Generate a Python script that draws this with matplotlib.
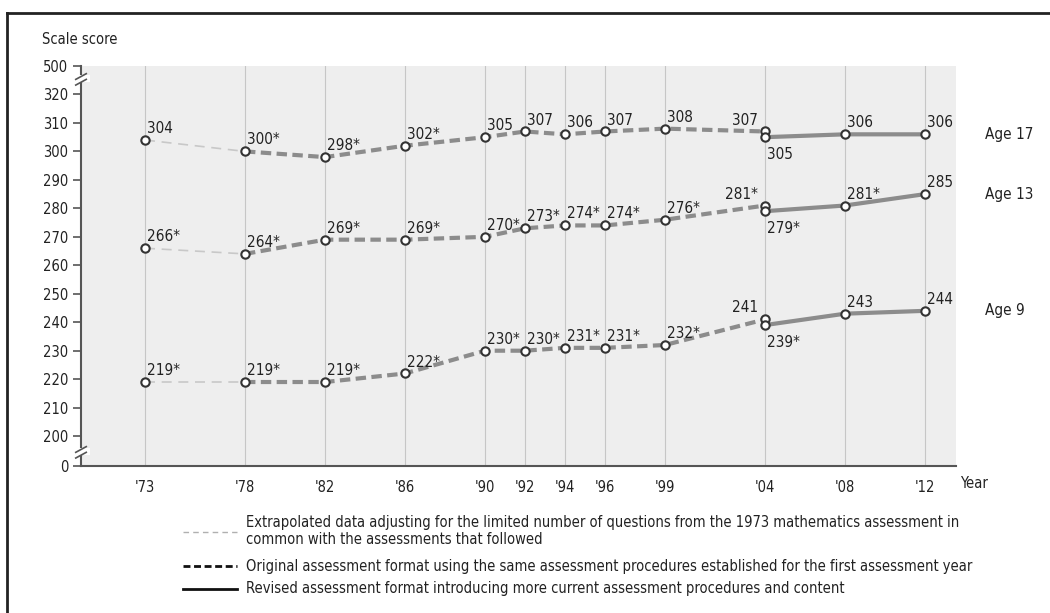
import matplotlib
matplotlib.use("Agg")
import matplotlib.pyplot as plt
from matplotlib.lines import Line2D
from matplotlib.patches import Rectangle

plt.rcParams['font.family'] = ['DejaVu Sans']
plt.rcParams['font.stretch'] = 'condensed'

# data
years = [1973, 1978, 1982, 1986, 1990, 1992, 1994, 1996, 1999, 2004]
years_rev = [2004, 2008, 2012]
year_labels = ["'73", "'78", "'82", "'86", "'90", "'92", "'94", "'96", "'99", "'04", "'08", "'12"]

age17 = [304, 300, 298, 302, 305, 307, 306, 307, 308, 307]
age17_rev = [305, 306, 306]
age17_lab = ['304', '300*', '298*', '302*', '305', '307', '306', '307', '308', '307']
age17_rev_lab = ['305', '306', '306']

age13 = [266, 264, 269, 269, 270, 273, 274, 274, 276, 281]
age13_rev = [279, 281, 285]
age13_lab = ['266*', '264*', '269*', '269*', '270*', '273*', '274*', '274*', '276*', '281*']
age13_rev_lab = ['279*', '281*', '285']

age9 = [219, 219, 219, 222, 230, 230, 231, 231, 232, 241]
age9_rev = [239, 243, 244]
age9_lab = ['219*', '219*', '219*', '222*', '230*', '230*', '231*', '231*', '232*', '241']
age9_rev_lab = ['239*', '243', '244']

# y axis is broken: 0 and 500 sit just outside the 200-320 range
ytick_pos = [189.5, 200, 210, 220, 230, 240, 250, 260, 270, 280, 290, 300, 310, 320, 330]
ytick_lab = ['0', '200', '210', '220', '230', '240', '250', '260', '270', '280', '290',
             '300', '310', '320', '500']

txt = '#222222'
line_col = '#8c8c8c'
fs = 11

fig = plt.figure(figsize=(10.5, 6.13), dpi=100)
ax = fig.add_axes([81 / 1050, (613 - 466) / 613, (956 - 81) / 1050, (466 - 66) / 613])
ax.set_facecolor('#eeeeee')
ax.set_xlim(1969.8, 2013.55)
ax.set_ylim(189.5, 330)

for y in years + years_rev[1:]:
    ax.axvline(y, color='#c6c6c6', lw=0.8, zorder=1)

series = [
    (age17, age17_rev, age17_lab, age17_rev_lab, 'Age 17'),
    (age13, age13_rev, age13_lab, age13_rev_lab, 'Age 13'),
    (age9, age9_rev, age9_lab, age9_rev_lab, 'Age 9'),
]

mk = dict(marker='o', ms=6, mfc='white', mec='#333333', mew=1.5, ls='none', zorder=5)

for orig, rev, lab, rlab, name in series:
    ax.plot(years[:2], orig[:2], color='#c8c8c8', lw=1.2, ls=(0, (6, 4)), zorder=3)
    ax.plot(years[1:], orig[1:], color=line_col, lw=3, ls=(0, (2.5, 1.3)), zorder=3,
            dash_capstyle='butt')
    ax.plot(years_rev, rev, color=line_col, lw=3, zorder=3)
    ax.plot(years, orig, **mk)
    ax.plot(years_rev, rev, **mk)
    for i, (x, v, s) in enumerate(zip(years, orig, lab)):
        if i == len(years) - 1:
            ax.annotate(s, (x, v), xytext=(-5, 5), textcoords='offset points',
                        ha='right', va='baseline', fontsize=fs, color=txt)
        else:
            ax.annotate(s, (x, v), xytext=(1.5, 5), textcoords='offset points',
                        ha='left', va='baseline', fontsize=fs, color=txt)
    for i, (x, v, s) in enumerate(zip(years_rev, rev, rlab)):
        if i == 0:
            ax.annotate(s, (x, v), xytext=(1.5, -7), textcoords='offset points',
                        ha='left', va='top', fontsize=fs, color=txt)
        else:
            ax.annotate(s, (x, v), xytext=(1.5, 5), textcoords='offset points',
                        ha='left', va='baseline', fontsize=fs, color=txt)
    ax.text(2015.0, rev[-1], name, ha='left', va='center', fontsize=fs, color=txt,
            clip_on=False)

ax.set_yticks(ytick_pos)
ax.set_yticklabels(ytick_lab, fontsize=10.5, color=txt)
ax.set_xticks(years + years_rev[1:])
ax.set_xticklabels(year_labels, fontsize=10.5, color=txt)
ax.tick_params(axis='y', length=6, width=1.2, color='#555555', pad=3)
ax.tick_params(axis='x', length=0, pad=10)

for sp in ['top', 'right']:
    ax.spines[sp].set_visible(False)
ax.spines['left'].set_color('#555555')
ax.spines['left'].set_linewidth(1.5)
ax.spines['bottom'].set_color('#555555')
ax.spines['bottom'].set_linewidth(1.5)

# break marks on the y axis
for yb in [325.5, 194.5]:
    ax.add_patch(Rectangle((-0.01, yb - 1.2), 0.02, 2.4, transform=ax.get_yaxis_transform(),
                           facecolor='white', edgecolor='none', clip_on=False, zorder=6))
    for dy in [-1.0, 1.0]:
        ax.plot([-0.006, 0.006], [yb + dy - 1.2, yb + dy + 0.8], color='#555555', lw=1.2,
                transform=ax.get_yaxis_transform(), clip_on=False, zorder=7)

fig.text(42 / 1050, 1 - 39 / 613, 'Scale score', fontsize=10.5, color=txt, va='center')
fig.text(960 / 1050, 1 - 484 / 613, 'Year', fontsize=10.5, color=txt, va='center')


# legend
def fy(p):
    return 1 - p / 613


fig.add_artist(Line2D([183 / 1050, 237 / 1050], [fy(532), fy(532)], color='#b0b0b0', lw=1,
                      ls=(0, (4, 3))))
fig.add_artist(Line2D([183 / 1050, 237 / 1050], [fy(566), fy(566)], color='#111111', lw=2,
                      ls=(0, (2.5, 1.3))))
fig.add_artist(Line2D([183 / 1050, 237 / 1050], [fy(589), fy(589)], color='#111111', lw=2))
lfs = 10.5
fig.text(246 / 1050, fy(522), 'Extrapolated data adjusting for the limited number of questions '
         'from the 1973 mathematics assessment in', fontsize=lfs, color=txt, va='center')
fig.text(246 / 1050, fy(539), 'common with the assessments that followed',
         fontsize=lfs, color=txt, va='center')
fig.text(246 / 1050, fy(566), 'Original assessment format using the same assessment procedures '
         'established for the first assessment year', fontsize=lfs, color=txt, va='center')
fig.text(246 / 1050, fy(589), 'Revised assessment format introducing more current assessment '
         'procedures and content', fontsize=lfs, color=txt, va='center')

# frame
fig.add_artist(Line2D([7 / 1050, 1], [fy(13), fy(13)], color='#222222', lw=2))
fig.add_artist(Line2D([7 / 1050, 7 / 1050], [0, fy(13)], color='#222222', lw=2))

fig.savefig('out.png', dpi=100)
